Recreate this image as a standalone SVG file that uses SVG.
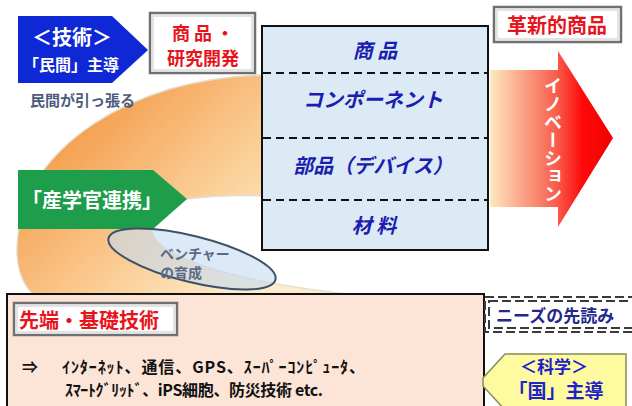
<svg xmlns="http://www.w3.org/2000/svg" width="632" height="406" viewBox="0 0 632 406">
<style>
text{font-family:"Noto Sans CJK JP","Noto Sans",sans-serif;font-weight:bold}
.wh{fill:#fff}
.red{fill:#e8141c}
.blu{fill:#1b1db0;font-style:italic;font-size:20px}
.navy{fill:#1f22c8}
.frame{fill:#fff;stroke:#707070;stroke-width:2.5}
.frin{fill:none;stroke:#c8c8c8;stroke-width:1}
.dash{stroke:#111;stroke-width:2;stroke-dasharray:8 5}
.ndash{fill:none;stroke:#3a3a3a;stroke-width:2;stroke-dasharray:9 4}
</style>
<defs>
<linearGradient id="og" gradientUnits="userSpaceOnUse" x1="70" y1="110" x2="240" y2="290">
<stop offset="0" stop-color="#f39a48"/>
<stop offset="0.55" stop-color="#fac98e"/>
<stop offset="1" stop-color="#fdebcb"/>
</linearGradient>
<linearGradient id="rg" x1="0" y1="0" x2="1" y2="0">
<stop offset="0" stop-color="#fde9c0"/>
<stop offset="0.55" stop-color="#f85a4a"/>
<stop offset="0.75" stop-color="#ff0a0a"/>
<stop offset="1" stop-color="#f00000"/>
</linearGradient>
</defs>
<rect width="632" height="406" fill="#fff"/>

<g id="arc">
<path d="M262,75 C130,78 25,150 18,235 C14,265 22,285 35,296 L370,296 C300,290 205,275 165,248 C140,230 150,205 187,199 C212,196 240,195 262,196 Z" fill="url(#og)" stroke="#e6ddd2" stroke-width="1.5"/>
</g>

<g id="tech">
<polygon points="18,16 112,16 148,50 112,83 18,83" fill="#0f28d6"/>
<text x="72" y="45" class="wh" font-size="20" text-anchor="middle">＜技術＞</text>
<text x="71" y="71" class="wh" font-size="16" text-anchor="middle">「民間」主導</text>
</g>
<text x="30" y="106" font-size="15" fill="#4d5b7c">民間が引っ張る</text>

<g id="rnd">
<rect x="150" y="13" width="105" height="60" class="frame"/>
<rect x="153" y="16" width="99" height="54" class="frin"/>
<text x="203" y="40" class="red" font-size="18" text-anchor="middle">商 品 ・</text>
<text x="203" y="65" class="red" font-size="18" text-anchor="middle">研究開発</text>
</g>

<g id="layers">
<rect x="262" y="26" width="226" height="224" fill="#dbeaf4" stroke="#111" stroke-width="2"/>
<line x1="263" y1="73" x2="487" y2="73" class="dash"/>
<line x1="263" y1="138" x2="487" y2="138" class="dash"/>
<line x1="263" y1="200" x2="487" y2="200" class="dash"/>
<text x="375" y="58" class="blu" text-anchor="middle">商 品</text>
<text x="373" y="107" class="blu" text-anchor="middle" font-size="19">コンポーネント</text>
<text x="373" y="173" class="blu" text-anchor="middle">部品（デバイス）</text>
<text x="374" y="233" class="blu" text-anchor="middle">材 料</text>
</g>

<g id="innov">
<rect x="494" y="7" width="127" height="35" class="frame"/>
<rect x="497" y="10" width="121" height="29" class="frin"/>
<text x="557" y="33" class="red" font-size="20" text-anchor="middle">革新的商品</text>
<polygon points="490,70 558,70 558,51 613,138 558,227 558,207 490,207" fill="url(#rg)"/>
<text x="553" y="77" class="wh" font-size="18" style="writing-mode:vertical-rl;text-orientation:upright" font-weight="normal">イノベーション</text>
</g>

<g id="sangaku">
<polygon points="18,170 153,170 187,199 153,229 18,229" fill="#1e9e4a"/>
<text x="22" y="208" class="wh" font-size="20">「産学官連携」</text>
</g>

<g id="venture">
<ellipse cx="192" cy="259" rx="86" ry="23" transform="rotate(14 192 259)" fill="#c4daf0" fill-opacity="0.6" stroke="#3c5068" stroke-width="2"/>
<text x="160" y="259" font-size="14" fill="#5a6a8a">ベンチャー</text>
<text x="160" y="278" font-size="14" fill="#5a6a8a">の育成</text>
</g>

<g id="basic">
<rect x="7" y="294" width="477" height="120" fill="#fce4d6" stroke="#111" stroke-width="2"/>
<rect x="14" y="303" width="163" height="32" class="frame"/>
<rect x="17" y="306" width="157" height="26" class="frin"/>
<text x="19" y="328" class="red" font-size="20">先端・基礎技術</text>
<text x="22" y="373" font-size="16" fill="#111">⇒</text>
<text x="62" y="373" font-size="16" fill="#111" textLength="303" lengthAdjust="spacing">ｲﾝﾀｰﾈｯﾄ、通信、GPS、ｽｰﾊﾟｰｺﾝﾋﾟｭｰﾀ、</text>
<text x="65" y="396" font-size="16" fill="#111" textLength="258" lengthAdjust="spacing">ｽﾏｰﾄｸﾞﾘｯﾄﾞ、iPS細胞、防災技術 etc.</text>
</g>

<g id="needs">
<rect x="485" y="297" width="160" height="35" fill="#fff" class="ndash"/>
<rect x="489" y="301" width="156" height="27" class="ndash"/>
<text x="496" y="322" font-size="17" fill="#22288c">ニーズの先読み</text>
</g>

<g id="science">
<polygon points="483,378 505,354 626,354 626,410 505,410 483,386" fill="#fdfaa0" stroke="#8a8a5a" stroke-width="1.5"/>
<text x="554" y="373" class="navy" font-size="17" text-anchor="middle">＜科学＞</text>
<text x="556" y="398" class="navy" font-size="19" text-anchor="middle">「国」主導</text>
</g>
</svg>
